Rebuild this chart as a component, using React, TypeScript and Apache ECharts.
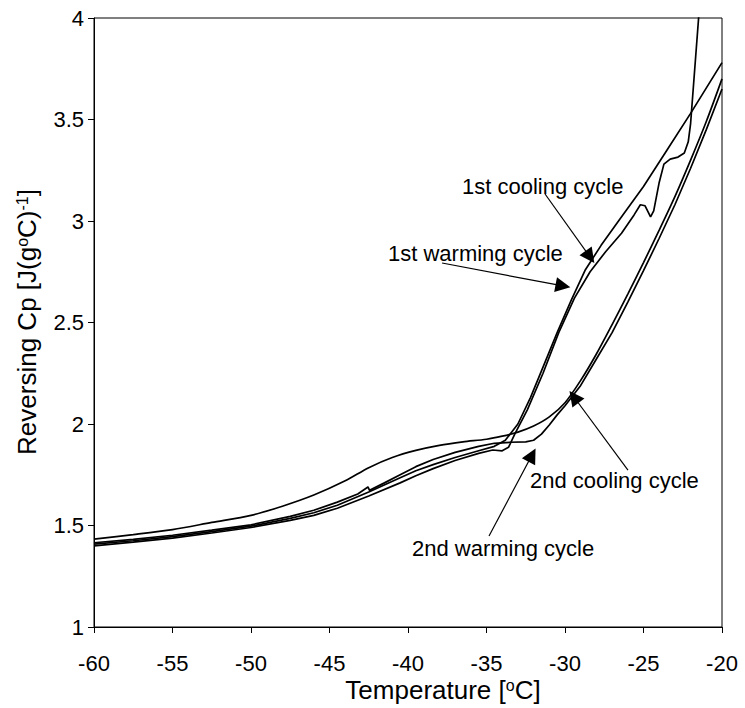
import React, { useEffect, useRef } from 'react';
import * as echarts from 'echarts';

// Reversing heat capacity traces, [temperature °C, Cp J/(g°C)]
const firstCooling: [number, number][] = [
  [-60, 1.4], [-57.5, 1.418], [-55, 1.438], [-52.5, 1.463], [-50, 1.49], [-47.5, 1.525],
  [-46, 1.55], [-44.5, 1.585], [-42.5, 1.645], [-40.5, 1.71], [-39.5, 1.745], [-38.4, 1.78],
  [-37, 1.82], [-35.5, 1.855], [-34.6, 1.872], [-34.0, 1.868], [-33.6, 1.885], [-33.2, 1.95],
  [-32.4, 2.07], [-31.4, 2.25], [-30.4, 2.45], [-29.4, 2.62], [-28.4, 2.75], [-27.4, 2.85],
  [-26.4, 2.94], [-25.6, 3.03], [-25.2, 3.08], [-24.9, 3.075], [-24.55, 3.02], [-24.35, 3.05],
  [-24.0, 3.19], [-23.7, 3.28], [-23.3, 3.305], [-22.8, 3.315], [-22.4, 3.335], [-22.15, 3.39],
  [-22.0, 3.48], [-21.5, 3.99], [-21.4, 4.1],
];

const firstWarming: [number, number][] = [
  [-60, 1.408], [-57.5, 1.425], [-55, 1.445], [-52.5, 1.47], [-50, 1.497], [-47.5, 1.535],
  [-46, 1.563], [-44.5, 1.6], [-42.5, 1.665], [-40.5, 1.735], [-39.5, 1.77], [-38.4, 1.8],
  [-37, 1.835], [-35.5, 1.868], [-34.5, 1.89], [-33.8, 1.92], [-33.0, 2.0], [-32.2, 2.13],
  [-31.4, 2.28], [-30.5, 2.45], [-29.6, 2.61], [-28.7, 2.76], [-27.7, 2.88], [-26.5, 3.01],
  [-25, 3.17], [-23.5, 3.35], [-22, 3.53], [-20, 3.78],
];

const secondCooling: [number, number][] = [
  [-60, 1.433], [-57.5, 1.455], [-55, 1.48], [-52.5, 1.515], [-50, 1.55], [-48, 1.595],
  [-46, 1.65], [-44, 1.72], [-42.5, 1.785], [-41, 1.835], [-39.5, 1.87], [-38, 1.895],
  [-36.5, 1.912], [-35, 1.925], [-34, 1.94], [-33, 1.96], [-32, 1.99], [-31, 2.035],
  [-30, 2.105], [-29, 2.215], [-28, 2.345], [-27, 2.49], [-26, 2.64], [-25, 2.795],
  [-24, 2.955], [-23, 3.12], [-22, 3.3], [-21, 3.49], [-20, 3.7],
];

const secondWarming: [number, number][] = [
  [-60, 1.415], [-57.5, 1.432], [-55, 1.452], [-52.5, 1.477], [-50, 1.503], [-47.5, 1.545],
  [-46, 1.575], [-44.5, 1.615], [-43.2, 1.655], [-42.55, 1.69], [-42.45, 1.673], [-41.5, 1.71],
  [-40.5, 1.75], [-39.5, 1.79], [-38.4, 1.825], [-37, 1.86], [-35.5, 1.89], [-34.5, 1.905],
  [-33.5, 1.91], [-32.5, 1.912], [-32, 1.92], [-31.5, 1.95], [-31, 1.995], [-30.5, 2.045],
  [-30, 2.09], [-29, 2.19], [-28, 2.32], [-27, 2.45], [-26, 2.6], [-25, 2.755],
  [-24, 2.915], [-23, 3.08], [-22, 3.26], [-21, 3.45], [-20, 3.65],
];

const seriesNames = ['1st cooling cycle', '1st warming cycle', '2nd cooling cycle', '2nd warming cycle'];

// Callout arrows in data space: tail near the caption, head on the trace
const arrowTails: [number, number][] = [[-31.27, 3.133], [-37.83, 2.793], [-25.99, 1.773], [-34.84, 1.448]];
const arrowHeads: [number, number][] = [[-28.41, 2.823], [-30.13, 2.68], [-29.43, 2.133], [-32.1, 1.847]];

// Caption anchors in pixels (left edge, vertical centre)
const captionPos: [number, number][] = [[462, 188], [388, 255], [530, 482], [412, 550]];

const FONT = '"Liberation Sans", Arial, Helvetica, sans-serif';

export default function App() {
  const ref = useRef<HTMLDivElement>(null);

  useEffect(() => {
    if (!ref.current) return;
    const chart = echarts.init(ref.current, null, { renderer: 'svg' });

    const traces = [firstCooling, firstWarming, secondCooling, secondWarming];

    const series: any[] = traces.map((d, i) => ({
      name: seriesNames[i],
      type: 'line',
      data: d,
      showSymbol: false,
      symbol: 'none',
      clip: true,
      smooth: i === 2 ? 0.3 : false,
      lineStyle: { color: '#000', width: 1.7 },
      z: 3,
    }));

    series[0].markLine = {
      silent: true,
      symbol: ['none', 'triangle'],
      symbolSize: 15,
      label: { show: false },
      lineStyle: { color: '#000', width: 1.2, type: 'solid' },
      itemStyle: { color: '#000' },
      data: arrowTails.map((t, i) => [{ coord: t }, { coord: arrowHeads[i] }]),
    };

    const captions = seriesNames.map((name, i) => ({
      type: 'text',
      left: captionPos[i][0],
      top: captionPos[i][1] - 13,
      style: { text: name, fontSize: 22, fontFamily: FONT, fill: '#000' },
    }));

    const supStyle = { fontSize: 16, fontFamily: FONT, fill: '#000', verticalAlign: 'top', lineHeight: 26 };

    chart.setOption({
      animation: false,
      backgroundColor: '#fff',
      grid: {
        left: 94, right: 23, top: 18, bottom: 81,
        show: true, borderColor: '#000', borderWidth: 1,
      },
      xAxis: {
        type: 'value', min: -60, max: -20, interval: 5,
        axisLine: { show: true, lineStyle: { color: '#000', width: 1 } },
        axisTick: { show: true, inside: false, length: 6, lineStyle: { color: '#000' } },
        splitLine: { show: false },
        axisLabel: { color: '#000', fontSize: 22, fontFamily: FONT, margin: 25 },
      },
      yAxis: {
        type: 'value', min: 1, max: 4, interval: 0.5,
        axisLine: { show: true, lineStyle: { color: '#000', width: 1 } },
        axisTick: { show: true, inside: false, length: 6, lineStyle: { color: '#000' } },
        splitLine: { show: false },
        axisLabel: { color: '#000', fontSize: 22, fontFamily: FONT, margin: 10 },
      },
      graphic: [
        ...captions,
        {
          type: 'text',
          x: 443, y: 690,
          style: {
            text: 'Temperature [{s|o}C]',
            fontSize: 26, fontFamily: FONT, fill: '#000',
            align: 'center', verticalAlign: 'middle',
            rich: { s: supStyle },
          },
        },
        {
          type: 'text',
          x: 27, y: 322, rotation: Math.PI / 2,
          style: {
            text: 'Reversing Cp [J(g{s|o}C){s|-1}]',
            fontSize: 26, fontFamily: FONT, fill: '#000',
            align: 'center', verticalAlign: 'middle',
            rich: { s: supStyle },
          },
        },
      ],
      series,
    });

    return () => chart.dispose();
  }, []);

  return (
    <div
      ref={ref}
      style={{ position: 'fixed', left: 0, top: 0, width: 745, height: 708, background: '#fff' }}
    />
  );
}
